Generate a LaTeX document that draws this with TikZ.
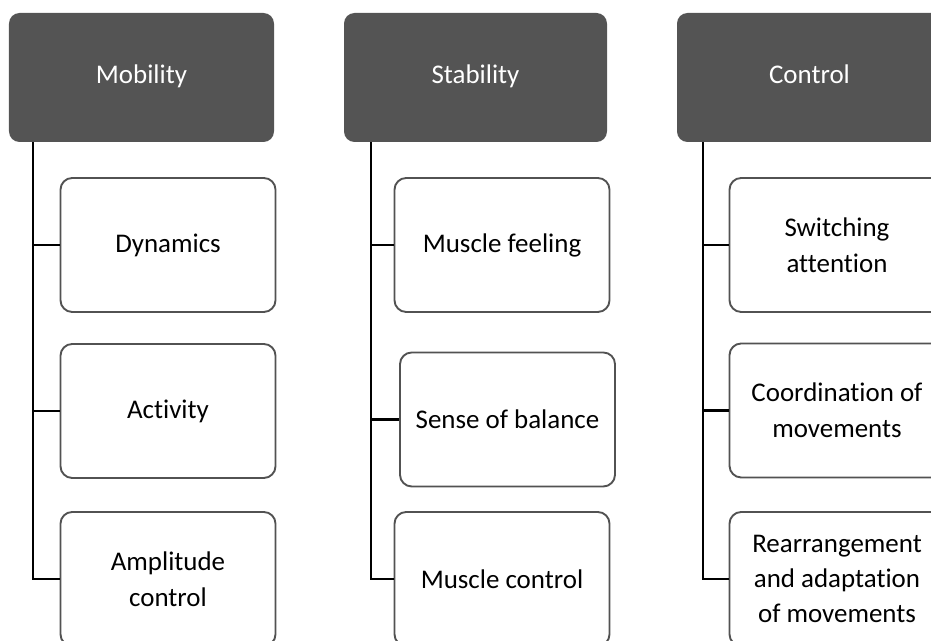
\documentclass[tikz,border=0pt]{standalone}
\usepackage{fontspec}
\setmainfont{Carlito}[Ligatures=NoCommon]
\usepackage{tikz}
\usetikzlibrary{positioning}
\definecolor{headgray}{RGB}{84,84,84}
\definecolor{framegray}{RGB}{82,82,82}
\tikzset{
  wire/.style={black, line width=1.8pt},
  head/.style={draw=none, fill=headgray, text=white,
               minimum width=7.95cm, minimum height=3.87cm,
               text height=2.2ex, text depth=0pt,
               rounded corners=9pt, inner sep=0pt, align=center,
               font=\fontsize{23}{30}\selectfont},
  item/.style={draw=framegray, line width=1.6pt, fill=white,
               minimum width=6.45cm, minimum height=4.02cm,
               rounded corners=10pt, inner sep=0pt, align=center,
               font=\fontsize{23}{31}\selectfont},
}

\begin{document}
\begin{tikzpicture}[x=1cm,y=1cm]
  \path[use as bounding box] (0,0) rectangle (27.93,19.23);

  % headers
  \node[head] (MOB) at (4.245,16.905) {Mobility};
  \node[head, minimum width=7.89cm] (STA) at (14.265,16.905) {Stability};
  \node[head] (CON) at (24.285,16.905) {Control};

  % mobility column
  \node[item] (DYN) at (5.04,11.88) {Dynamics};
  \node[item] (ACT) at (5.04,6.9) {Activity};
  \node[item] (AMP) at (5.04,1.86) {Amplitude\\control};
  \draw[wire] ([xshift=0.72cm]MOB.south west) |- (AMP.west);
  \draw[wire] ([xshift=0.72cm]MOB.south west) |- (DYN.west);
  \draw[wire] ([xshift=0.72cm]MOB.south west) |- (ACT.west);

  % stability column
  \node[item] (FEEL) at (15.06,11.88) {Muscle feeling};
  \node[item] (BAL) at (15.225,6.645) {Sense of balance};
  \node[item] (MCTL) at (15.06,1.86) {Muscle control};
  \draw[wire] ([xshift=0.81cm]STA.south west) |- (MCTL.west);
  \draw[wire] ([xshift=0.81cm]STA.south west) |- (FEEL.west);
  \draw[wire] ([xshift=0.81cm]STA.south west) |- (BAL.west);

  % control column
  \node[item] (SWI) at (25.11,11.88) {Switching\\attention};
  \node[item] (COO) at (25.11,6.915) {Coordination of\\movements};
  \node[item, font=\fontsize{23}{30}\selectfont] (REA) at (25.11,1.86)
    {Rearrangement\\and adaptation\\of movements};
  \draw[wire] ([xshift=0.78cm]CON.south west) |- (REA.west);
  \draw[wire] ([xshift=0.78cm]CON.south west) |- (SWI.west);
  \draw[wire] ([xshift=0.78cm]CON.south west) |- (COO.west);
\end{tikzpicture}
\end{document}
